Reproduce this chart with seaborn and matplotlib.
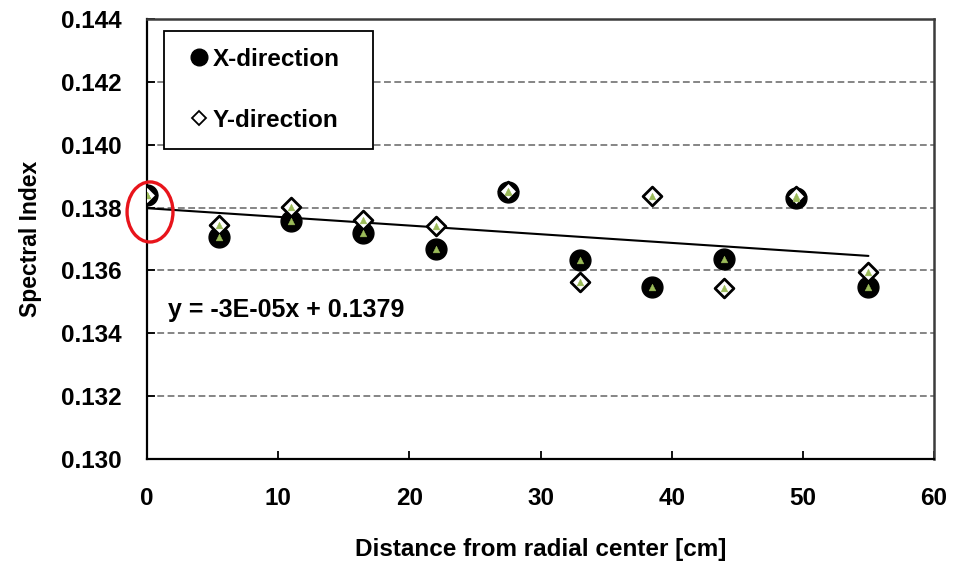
import numpy as np
import pandas as pd
import matplotlib
matplotlib.use("Agg")
import matplotlib.pyplot as plt
from matplotlib.patches import Ellipse
from matplotlib.lines import Line2D
import seaborn as sns

# ---- data ----
DIST = [0, 5.5, 11, 16.5, 22, 27.5, 33, 38.5, 44, 49.5, 55]
X_DIR = [0.13840, 0.13707, 0.13757, 0.13720, 0.13667, 0.13848,
         0.13633, 0.13548, 0.13636, 0.13829, 0.13548]
Y_DIR = [0.13840, 0.13744, 0.13803, 0.13760, 0.13741, 0.13854,
         0.13564, 0.13838, 0.13543, 0.13837, 0.13596]
TREND_SLOPE = -2.76e-5
TREND_INTERCEPT = 0.13798
TREND_X = [0, 55]
EQUATION = "y = -3E-05x + 0.1379"
X_TICKS = [0, 10, 20, 30, 40, 50, 60]
Y_TICKS = [0.130, 0.132, 0.134, 0.136, 0.138, 0.140, 0.142, 0.144]
HIGHLIGHT = (0.23, 0.13786)  # red ring around first point

sns.set_theme(style="white")
plt.rcParams["font.family"] = ["Liberation Sans", "DejaVu Sans"]
plt.rcParams["font.weight"] = "bold"
plt.rcParams["text.color"] = "black"
plt.rcParams["axes.labelcolor"] = "black"
plt.rcParams["xtick.color"] = "black"
plt.rcParams["ytick.color"] = "black"

df_x = pd.DataFrame({"dist": DIST, "val": X_DIR})
df_y = pd.DataFrame({"dist": DIST, "val": Y_DIR})

fig = plt.figure(figsize=(9.69, 5.62), dpi=100)
ax = fig.add_axes([147/969, 1-459/562, (934-147)/969, (459-19)/562])

# gridlines
for yv in Y_TICKS[1:-1]:
    ax.axhline(yv, color="#858585", lw=1.4, ls=(0, (3.5, 1.8)), zorder=0)

# trendline
tx = np.array(TREND_X, dtype=float)
sns.lineplot(x=tx, y=TREND_SLOPE * tx + TREND_INTERCEPT, color="black",
             lw=1.5, ax=ax, zorder=2)

sns.scatterplot(data=df_x, x="dist", y="val", marker="o", s=225,
                color="black", edgecolor="black", linewidth=1, ax=ax, zorder=3)
sns.scatterplot(data=df_y, x="dist", y="val", marker="D", s=92,
                color="white", edgecolor="black", linewidth=2.0, ax=ax, zorder=4)
for d in (df_x, df_y):
    sns.scatterplot(data=d, x="dist", y="val", marker="^", s=24,
                    color="#9bbb59", edgecolor="#9bbb59", linewidth=0.3,
                    ax=ax, zorder=5)

ax.set_xlim(0, 60)
ax.set_ylim(0.130, 0.144)
ax.set_xticks(X_TICKS)
ax.set_yticks(Y_TICKS)
ax.set_yticklabels([f"{v:.3f}" for v in Y_TICKS])
ax.tick_params(axis="both", direction="in", length=6, width=1.3, color="black",
               labelsize=17.5, labelcolor="black")
ax.tick_params(axis="x", pad=20, bottom=True, top=False)
ax.tick_params(axis="y", pad=18, left=True, right=False)
for lab in ax.get_xticklabels() + ax.get_yticklabels():
    lab.set_fontweight("bold")

for s in ("left", "bottom"):
    ax.spines[s].set_color("black")
    ax.spines[s].set_linewidth(1.6)
for s in ("top", "right"):
    ax.spines[s].set_color("#3c3c3c")
    ax.spines[s].set_linewidth(1.8)

ax.set_xlabel("Distance from radial center [cm]", fontsize=17.5,
              fontweight="bold", labelpad=20, color="black")
ax.set_ylabel("Spectral Index", fontsize=16.5, fontweight="bold",
              labelpad=14, color="black")

ax.text(1.6, 0.13475, EQUATION, fontsize=18, fontweight="bold",
        va="center", ha="left", color="black")

ell = Ellipse(HIGHLIGHT, width=3.5, height=0.00191, fill=False,
              edgecolor="#e8141b", lw=2.4, clip_on=False, zorder=6)
ax.add_patch(ell)

handles = [
    Line2D([], [], marker="o", ls="", color="black", markersize=12),
    Line2D([], [], marker="D", ls="", markerfacecolor="white",
           markeredgecolor="black", markeredgewidth=1.3, markersize=7.5),
]
leg_w = (373 - 164) / 787
leg = ax.legend(handles, ["X-direction", "Y-direction"], loc="upper left",
                bbox_to_anchor=(0.0216, 0.0, leg_w, 0.973), mode="expand",
                frameon=True, fancybox=False,
                edgecolor="black", framealpha=1, borderpad=0.7,
                labelspacing=1.55, handlelength=1.5, handletextpad=-0.2,
                borderaxespad=0, prop={"size": 17.5, "weight": "bold"})
leg.get_frame().set_linewidth(1.3)
leg.set_zorder(10)
for t in leg.get_texts():
    t.set_color("black")

fig.savefig("out.png", dpi=100)
